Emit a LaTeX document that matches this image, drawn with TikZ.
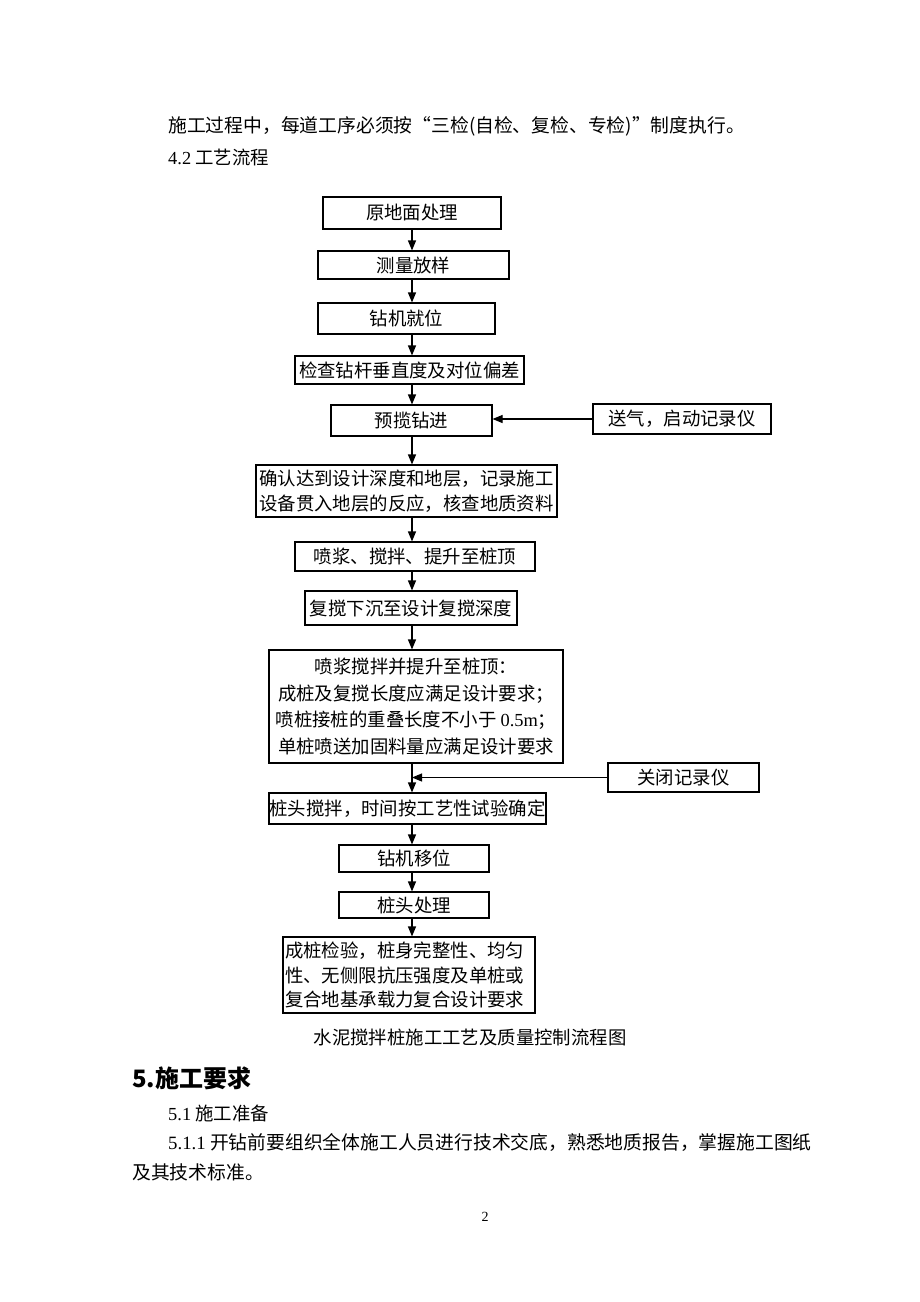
\documentclass[tikz,border=0pt]{standalone}
\usepackage{fontspec}
\setmainfont{Liberation Serif}
\newfontfamily\cjk{Noto Sans CJK SC}
\usetikzlibrary{arrows.meta}
\begin{document}
\begin{tikzpicture}[x=1pt,y=-1pt,
  flowbox/.style={draw=black,line width=1.1pt,inner sep=0pt,align=center,
    font=\cjk\fontsize{18.4pt}{25pt}\selectfont},
  arr/.style={line width=1.1pt,-{Triangle[length=10pt,width=8pt]}},
  txt/.style={anchor=west,inner sep=0pt,font=\cjk\fontsize{18.4pt}{25pt}\selectfont},
  para/.style={anchor=west,inner sep=0pt,font=\cjk\fontsize{18.8pt}{25pt}\selectfont}]
\fill[white] (0,0) rectangle (920,1302);
\useasboundingbox (0,0) rectangle (920,1302);

% body text
\node[para] (t1) at (168,126) {施工过程中，每道工序必须按“三检(自检、复检、专检)”制度执行。};
\node[txt] (t2) at (168,157) {{\rmfamily 4.2} 工艺流程};

% flow boxes
\node[flowbox,minimum width=178,minimum height=32] (b1) at (412,213) {原地面处理};
\node[flowbox,minimum width=191,minimum height=28] (b2) at (413.5,265) {测量放样};
\node[flowbox,minimum width=177,minimum height=31] (b3) at (406.5,318.5) {钻机就位};
\node[flowbox,minimum width=229,minimum height=28] (b4) at (409.5,370) {检查钻杆垂直度及对位偏差};
\node[flowbox,minimum width=161,minimum height=31] (b5) at (411.5,420.5) {预揽钻进};
\node[flowbox,minimum width=178,minimum height=30] (s1) at (682,419) {送气，启动记录仪};
\node[flowbox,minimum width=301,minimum height=52] (b6) at (406.5,491) {确认达到设计深度和地层，记录施工\\设备贯入地层的反应，核查地质资料};
\node[flowbox,minimum width=240,minimum height=29] (b7) at (415,556.5) {喷浆、搅拌、提升至桩顶};
\node[flowbox,minimum width=212,minimum height=34] (b8) at (411,608) {复搅下沉至设计复搅深度};
\node[flowbox,minimum width=294,minimum height=113,font=\cjk\fontsize{18.4pt}{26.7pt}\selectfont] (b9) at (416,706.5)
  {喷浆搅拌并提升至桩顶：\\成桩及复搅长度应满足设计要求；\\喷桩接桩的重叠长度不小于 {\rmfamily 0.5m}；\\单桩喷送加固料量应满足设计要求};
\node[flowbox,minimum width=151,minimum height=29] (s2) at (683.5,777.5) {关闭记录仪};
\node[flowbox,minimum width=277,minimum height=31] (b10) at (407.5,808.5) {桩头搅拌，时间按工艺性试验确定};
\node[flowbox,minimum width=150,minimum height=27] (b11) at (414,858.5) {钻机移位};
\node[flowbox,minimum width=150,minimum height=26] (b12) at (414,905) {桩头处理};
\node[flowbox,minimum width=252,minimum height=76,inner xsep=2pt,text width=248pt,align=left,
  font=\cjk\fontsize{18.4pt}{24.5pt}\selectfont] (b13) at (409,975)
  {成桩检验，桩身完整性、均匀\\性、无侧限抗压强度及单桩或\\复合地基承载力复合设计要求};

% connectors
\coordinate (col) at (412,0);
\draw[arr] (b1.south -| col) -- (b2.north -| col);
\draw[arr] (b2.south -| col) -- (b3.north -| col);
\draw[arr] (b3.south -| col) -- (b4.north -| col);
\draw[arr] (b4.south -| col) -- (b5.north -| col);
\draw[arr] (b5.south -| col) -- (b6.north -| col);
\draw[arr] (b6.south -| col) -- (b7.north -| col);
\draw[arr] (b7.south -| col) -- (b8.north -| col);
\draw[arr] (b8.south -| col) -- (b9.north -| col);
\draw[arr] (b9.south -| col) -- (b10.north -| col);
\draw[arr] (b10.south -| col) -- (b11.north -| col);
\draw[arr] (b11.south -| col) -- (b12.north -| col);
\draw[arr] (b12.south -| col) -- (b13.north -| col);
\draw[arr] (s1.west) -- (s1.west -| b5.east);
\draw[arr] (s2.west) -- (s2.west -| col);

% caption and following text
\node[txt,anchor=center] (cap) at (470,1037) {水泥搅拌桩施工工艺及质量控制流程图};
\node[txt,font=\cjk\bfseries\fontsize{24pt}{28pt}\selectfont] (h5) at (132,1078) {5.施工要求};
\node[txt] (t51) at (168,1113) {{\rmfamily 5.1} 施工准备};
\node[para] (t511) at (168,1142) {{\rmfamily 5.1.1} 开钻前要组织全体施工人员进行技术交底，熟悉地质报告，掌握施工图纸};
\node[para] (t512) at (132,1172) {及其技术标准。};
\node[txt,anchor=center,font=\rmfamily\fontsize{14pt}{16pt}\selectfont] (pg) at (485,1217) {2};
\end{tikzpicture}
\end{document}
